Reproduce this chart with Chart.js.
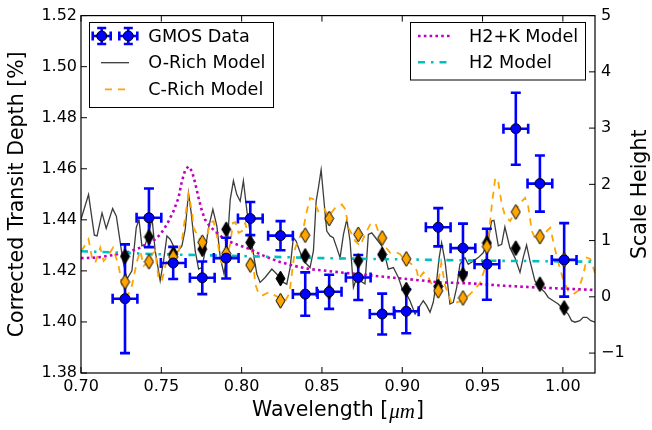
<!DOCTYPE html>
<html>
<head>
<meta charset="utf-8">
<script src="https://cdn.jsdelivr.net/npm/chart.js@4.4.1/dist/chart.umd.min.js"></script>
<style>
  html, body { margin: 0; padding: 0; background: #fff; }
  #wrap { width: 652px; height: 430px; }
</style>
</head>
<body>
<div id="wrap"><canvas id="canvas"></canvas></div>
<script>
// binned GMOS transit depths [%] with 1-sigma errors
const binWave = [0.7274, 0.7423, 0.7574, 0.7755, 0.7904, 0.8054, 0.8242, 0.8396, 0.8545,
  0.8726, 0.8875, 0.9025, 0.9224, 0.9378, 0.9527, 0.9707, 0.9857, 1.0008];
const binDepth = [1.4091, 1.4408, 1.4231, 1.4173, 1.4250, 1.4405, 1.4338, 1.4109, 1.4118,
  1.4174, 1.4031, 1.4042, 1.4371, 1.4289, 1.4226, 1.4757, 1.4542, 1.4243];
const binErr = [0.0213, 0.0115, 0.0063, 0.0064, 0.0080, 0.0065, 0.0057, 0.0085, 0.0067,
  0.0088, 0.0080, 0.0086, 0.0075, 0.0096, 0.0139, 0.0141, 0.0110, 0.0144];
const binHalfWidth = 0.0077;

// models averaged over the same bins
const oRichBinned = [1.4257, 1.4333, 1.4266, 1.4285, 1.4363, 1.4311, 1.4170, 1.4259, 1.4118,
  1.4239, 1.4264, 1.4127, 1.4139, 1.4185, 1.4309, 1.4289, 1.4148, 1.4055];
const cRichBinned = [1.4157, 1.4236, 1.4255, 1.4312, 1.4268, 1.4223, 1.4083, 1.4340, 1.4405,
  1.4343, 1.4329, 1.4247, 1.4122, 1.4094, 1.4295, 1.4431, 1.4334, 1.4243];

// O-rich model spectrum
const oRichWave = [0.7000, 0.7047, 0.7083, 0.7100, 0.7131, 0.7157, 0.7197, 0.7220, 0.7240, 0.7261,
  0.7286, 0.7317, 0.7344, 0.7361, 0.7379, 0.7400, 0.7421, 0.7442, 0.7462, 0.7493,
  0.7514, 0.7535, 0.7555, 0.7597, 0.7628, 0.7649, 0.7669, 0.7686, 0.7711, 0.7732,
  0.7753, 0.7773, 0.7794, 0.7821, 0.7846, 0.7867, 0.7891, 0.7908, 0.7929, 0.7949,
  0.7970, 0.7991, 0.8011, 0.8033, 0.8053, 0.8074, 0.8095, 0.8115, 0.8146, 0.8188,
  0.8229, 0.8260, 0.8281, 0.8302, 0.8322, 0.8339, 0.8354, 0.8385, 0.8406, 0.8426,
  0.8447, 0.8464, 0.8478, 0.8495, 0.8509, 0.8530, 0.8551, 0.8571, 0.8592, 0.8613,
  0.8634, 0.8655, 0.8675, 0.8696, 0.8717, 0.8737, 0.8768, 0.8789, 0.8810, 0.8841,
  0.8872, 0.8893, 0.8913, 0.8945, 0.8976, 0.8997, 0.9017, 0.9048, 0.9080, 0.9111,
  0.9131, 0.9152, 0.9173, 0.9193, 0.9214, 0.9230, 0.9245, 0.9266, 0.9297, 0.9318,
  0.9339, 0.9359, 0.9390, 0.9411, 0.9434, 0.9473, 0.9504, 0.9535, 0.9556, 0.9571,
  0.9598, 0.9619, 0.9639, 0.9670, 0.9701, 0.9733, 0.9753, 0.9774, 0.9795, 0.9826,
  0.9857, 0.9888, 0.9909, 0.9940, 0.9971, 1.0002, 1.0033, 1.0054, 1.0075, 1.0106,
  1.0126, 1.0149, 1.0174, 1.0200];
const oRichDepth = [1.4402, 1.4499, 1.4340, 1.4337, 1.4427, 1.4366, 1.4444, 1.4414, 1.4330, 1.4239,
  1.4168, 1.4200, 1.4369, 1.4402, 1.4298, 1.4304, 1.4343, 1.4408, 1.4278, 1.4161,
  1.4239, 1.4337, 1.4324, 1.4271, 1.4298, 1.4363, 1.4505, 1.4427, 1.4278, 1.4207,
  1.4213, 1.4278, 1.4369, 1.4441, 1.4375, 1.4252, 1.4187, 1.4278, 1.4479, 1.4553,
  1.4499, 1.4473, 1.4553, 1.4434, 1.4349, 1.4265, 1.4187, 1.4155, 1.4174, 1.4207,
  1.4181, 1.4155, 1.4148, 1.4213, 1.4330, 1.4317, 1.4291, 1.4239, 1.4226, 1.4213,
  1.4278, 1.4473, 1.4525, 1.4596, 1.4499, 1.4356, 1.4337, 1.4330, 1.4291, 1.4252,
  1.4343, 1.4402, 1.4317, 1.4135, 1.4174, 1.4161, 1.4149, 1.4343, 1.4349, 1.4324,
  1.4298, 1.4259, 1.4207, 1.4213, 1.4174, 1.4135, 1.4122, 1.4083, 1.4031, 1.4064,
  1.4083, 1.4064, 1.4038, 1.4077, 1.4161, 1.4252, 1.4310, 1.4239, 1.4070, 1.4077,
  1.4135, 1.4226, 1.4252, 1.4226, 1.4235, 1.4252, 1.4271, 1.4317, 1.4395, 1.4398,
  1.4298, 1.4304, 1.4372, 1.4291, 1.4252, 1.4194, 1.4252, 1.4301, 1.4239, 1.4161,
  1.4135, 1.4116, 1.4096, 1.4083, 1.4070, 1.4051, 1.4031, 1.4005, 1.3999, 1.4005,
  1.4018, 1.4018, 1.4005, 1.3999];

// C-rich model spectrum
const cRichWave = [0.7000, 0.7016, 0.7047, 0.7068, 0.7089, 0.7120, 0.7141, 0.7170, 0.7199, 0.7234,
  0.7255, 0.7276, 0.7296, 0.7317, 0.7349, 0.7369, 0.7390, 0.7419, 0.7444, 0.7462,
  0.7483, 0.7504, 0.7525, 0.7551, 0.7581, 0.7607, 0.7628, 0.7649, 0.7669, 0.7691,
  0.7701, 0.7743, 0.7763, 0.7784, 0.7805, 0.7825, 0.7846, 0.7867, 0.7888, 0.7908,
  0.7929, 0.7946, 0.7960, 0.7981, 0.8002, 0.8023, 0.8041, 0.8064, 0.8085, 0.8104,
  0.8127, 0.8168, 0.8209, 0.8272, 0.8298, 0.8315, 0.8334, 0.8365, 0.8385, 0.8406,
  0.8426, 0.8446, 0.8477, 0.8510, 0.8541, 0.8583, 0.8624, 0.8645, 0.8666, 0.8687,
  0.8707, 0.8738, 0.8768, 0.8801, 0.8832, 0.8850, 0.8883, 0.8925, 0.8967, 0.8987,
  0.9018, 0.9049, 0.9070, 0.9091, 0.9101, 0.9132, 0.9164, 0.9187, 0.9216, 0.9243,
  0.9267, 0.9309, 0.9371, 0.9412, 0.9444, 0.9485, 0.9516, 0.9537, 0.9558, 0.9579,
  0.9597, 0.9620, 0.9641, 0.9672, 0.9703, 0.9734, 0.9765, 0.9784, 0.9807, 0.9834,
  0.9865, 0.9900, 0.9921, 0.9940, 0.9963, 1.0004, 1.0033, 1.0066, 1.0095, 1.0128,
  1.0149, 1.0170, 1.0200];
const cRichDepth = [1.4278, 1.4291, 1.4324, 1.4252, 1.4232, 1.4291, 1.4239, 1.4259, 1.4291, 1.4220,
  1.4148, 1.4114, 1.4109, 1.4142, 1.4239, 1.4278, 1.4220, 1.4231, 1.4266, 1.4278,
  1.4168, 1.4161, 1.4220, 1.4265, 1.4255, 1.4278, 1.4317, 1.4414, 1.4499, 1.4434,
  1.4369, 1.4317, 1.4325, 1.4337, 1.4388, 1.4395, 1.4337, 1.4246, 1.4220, 1.4259,
  1.4304, 1.4388, 1.4391, 1.4349, 1.4356, 1.4388, 1.4337, 1.4278, 1.4148, 1.4114,
  1.4103, 1.4116, 1.4103, 1.4083, 1.4113, 1.4200, 1.4291, 1.4337, 1.4369, 1.4434,
  1.4486, 1.4481, 1.4434, 1.4447, 1.4414, 1.4447, 1.4460, 1.4442, 1.4369, 1.4343,
  1.4317, 1.4298, 1.4343, 1.4382, 1.4388, 1.4356, 1.4304, 1.4271, 1.4271, 1.4265,
  1.4239, 1.4231, 1.4220, 1.4200, 1.4168, 1.4194, 1.4174, 1.4142, 1.4122, 1.4231,
  1.4142, 1.4070, 1.4083, 1.4103, 1.4122, 1.4153, 1.4213, 1.4330, 1.4460, 1.4564,
  1.4551, 1.4460, 1.4414, 1.4395, 1.4434, 1.4466, 1.4486, 1.4453, 1.4356, 1.4317,
  1.4317, 1.4356, 1.4369, 1.4317, 1.4252, 1.4161, 1.4122, 1.4109, 1.4122, 1.4187,
  1.4252, 1.4247, 1.4192];

// H2 + K and pure H2 atmosphere models
const h2kWave = [0.700, 0.710, 0.720, 0.730, 0.737, 0.745, 0.7494, 0.7535, 0.7576, 0.7607,
  0.7628, 0.7649, 0.7669, 0.7691, 0.7711, 0.7732, 0.7753, 0.7773, 0.7805, 0.7846,
  0.7890, 0.7950, 0.8053, 0.8115, 0.8219, 0.8323, 0.8426, 0.8531, 0.8614, 0.8821,
  0.9029, 0.9236, 0.9423, 0.9630, 0.9838, 1.0200];
const h2kDepth = [1.4250, 1.4252, 1.4262, 1.4275, 1.4291, 1.4317, 1.4343, 1.4382, 1.4434, 1.4486,
  1.4551, 1.4596, 1.4609, 1.4590, 1.4544, 1.4486, 1.4434, 1.4400, 1.4372, 1.4350,
  1.4325, 1.4308, 1.4285, 1.4265, 1.4239, 1.4220, 1.4207, 1.4200, 1.4194, 1.4181,
  1.4168, 1.4155, 1.4151, 1.4142, 1.4135, 1.4125];
const h2Wave = [0.70, 0.75, 0.80, 0.85, 0.90, 0.95, 1.02];
const h2Depth = [1.4277, 1.4265, 1.4258, 1.4250, 1.4245, 1.4240, 1.4236];

// axis ticks
const waveTicks = [0.70, 0.75, 0.80, 0.85, 0.90, 0.95, 1.00];
const depthTicks = [1.38, 1.40, 1.42, 1.44, 1.46, 1.48, 1.50, 1.52];
const scaleHeightTicks = [-1, 0, 1, 2, 3, 4, 5];

const FONT = 'DejaVu Sans';
Chart.defaults.font.family = FONT;
Chart.defaults.color = '#000';

const pts = (xs, ys) => xs.map((x, i) => ({ x: x, y: ys[i] }));

// thin diamond marker
function thinDiamond(fill) {
  const c = document.createElement('canvas');
  c.width = 11; c.height = 17;
  const g = c.getContext('2d');
  g.beginPath();
  g.moveTo(5.5, 1); g.lineTo(10, 8.5); g.lineTo(5.5, 16); g.lineTo(1, 8.5); g.closePath();
  g.fillStyle = fill; g.fill();
  g.strokeStyle = '#000'; g.lineWidth = 1; g.stroke();
  return c;
}

const BLUE = '#0000ff', ORANGE = '#ffa500', GREY = '#3c3c3c', MAGENTA = '#bf00bf', CYAN = '#00bfbf';

// errorbars for the GMOS points, drawn just before the diamonds
const errorBars = {
  id: 'errorBars',
  beforeDatasetDraw(chart, args) {
    if (args.index !== 2) return;
    const { ctx, scales: { x, y } } = chart;
    ctx.save();
    ctx.strokeStyle = BLUE;
    ctx.lineWidth = 2.6;
    ctx.beginPath();
    binWave.forEach((w, i) => {
      const px = x.getPixelForValue(w), py = y.getPixelForValue(binDepth[i]);
      const top = y.getPixelForValue(binDepth[i] + binErr[i]);
      const bot = y.getPixelForValue(binDepth[i] - binErr[i]);
      const l = x.getPixelForValue(w - binHalfWidth), r = x.getPixelForValue(w + binHalfWidth);
      ctx.moveTo(px, top); ctx.lineTo(px, bot);
      ctx.moveTo(l, py); ctx.lineTo(r, py);
      ctx.moveTo(px - 5, top); ctx.lineTo(px + 5, top);
      ctx.moveTo(px - 5, bot); ctx.lineTo(px + 5, bot);
      ctx.moveTo(l, py - 5); ctx.lineTo(l, py + 5);
      ctx.moveTo(r, py - 5); ctx.lineTo(r, py + 5);
    });
    ctx.stroke();
    ctx.restore();
  }
};

function sampleLine(ctx, ds, x0, x1, y) {
  ctx.save();
  ctx.strokeStyle = ds.borderColor;
  ctx.lineWidth = ds.borderWidth;
  ctx.setLineDash(ds.borderDash || []);
  ctx.beginPath(); ctx.moveTo(x0, y); ctx.lineTo(x1, y); ctx.stroke();
  ctx.restore();
}

function sampleErrorbar(ctx, cx, cy) {
  ctx.save();
  ctx.strokeStyle = BLUE; ctx.lineWidth = 2.6;
  ctx.beginPath();
  ctx.moveTo(cx - 9, cy); ctx.lineTo(cx + 9, cy);
  ctx.moveTo(cx, cy - 8); ctx.lineTo(cx, cy + 8);
  ctx.moveTo(cx - 9, cy - 4.5); ctx.lineTo(cx - 9, cy + 4.5);
  ctx.moveTo(cx + 9, cy - 4.5); ctx.lineTo(cx + 9, cy + 4.5);
  ctx.moveTo(cx - 4.5, cy - 8); ctx.lineTo(cx + 4.5, cy - 8);
  ctx.moveTo(cx - 4.5, cy + 8); ctx.lineTo(cx + 4.5, cy + 8);
  ctx.stroke();
  ctx.beginPath(); ctx.arc(cx, cy, 5, 0, Math.PI * 2);
  ctx.fillStyle = BLUE; ctx.fill();
  ctx.strokeStyle = '#000'; ctx.lineWidth = 1; ctx.stroke();
  ctx.restore();
}

// frame, inward ticks, axis titles and the two legend boxes
const decorations = {
  id: 'decorations',
  afterDraw(chart) {
    const { ctx, chartArea: a, scales } = chart;
    const ds = chart.data.datasets;
    ctx.save();
    ctx.strokeStyle = '#000';
    ctx.lineWidth = 1;
    ctx.beginPath();
    waveTicks.forEach(v => {
      const px = scales.x.getPixelForValue(v);
      ctx.moveTo(px, a.bottom); ctx.lineTo(px, a.bottom - 6);
      ctx.moveTo(px, a.top); ctx.lineTo(px, a.top + 6);
    });
    depthTicks.forEach(v => {
      const py = scales.y.getPixelForValue(v);
      ctx.moveTo(a.left, py); ctx.lineTo(a.left + 6, py);
    });
    scaleHeightTicks.forEach(v => {
      const py = scales.y2.getPixelForValue(v);
      ctx.moveTo(a.right, py); ctx.lineTo(a.right - 6, py);
    });
    ctx.stroke();
    ctx.lineWidth = 1.2;
    ctx.strokeRect(a.left, a.top, a.right - a.left, a.bottom - a.top);

    // axis titles
    ctx.fillStyle = '#000';
    ctx.textBaseline = 'middle';
    ctx.textAlign = 'center';
    ctx.font = '20.5px "' + FONT + '"';
    const midY = (a.top + a.bottom) / 2;
    ctx.save(); ctx.translate(18, midY); ctx.rotate(-Math.PI / 2);
    ctx.fillText('Corrected Transit Depth [%]', 0, 0); ctx.restore();
    ctx.save(); ctx.translate(641, midY); ctx.rotate(-Math.PI / 2);
    ctx.fillText('Scale Height', 0, 0); ctx.restore();

    const head = 'Wavelength [', unit = '\u03bcm', tail = ']';
    const sansFont = '20.5px "' + FONT + '"', mathFont = 'italic 21px "Liberation Serif"';
    ctx.font = sansFont; const wHead = ctx.measureText(head).width, wTail = ctx.measureText(tail).width;
    ctx.font = mathFont; const wUnit = ctx.measureText(unit).width + 2;
    let tx = (a.left + a.right) / 2 - (wHead + wUnit + wTail) / 2;
    const ty = 411;
    ctx.textAlign = 'left';
    ctx.font = sansFont; ctx.fillText(head, tx, ty); tx += wHead;
    ctx.font = mathFont; ctx.fillText(unit, tx + 1, ty + 1); tx += wUnit;
    ctx.font = sansFont; ctx.fillText(tail, tx, ty);

    // legends
    const legendFont = '17.6px "' + FONT + '"';
    const box = (x, y, w, h) => {
      ctx.fillStyle = '#fff'; ctx.fillRect(x, y, w, h);
      ctx.strokeStyle = '#000'; ctx.lineWidth = 1; ctx.strokeRect(x, y, w, h);
    };
    const label = (text, x, y) => {
      ctx.fillStyle = '#000'; ctx.font = legendFont; ctx.textAlign = 'left'; ctx.textBaseline = 'middle';
      ctx.fillText(text, x, y + 1);
    };
    box(89.5, 22.5, 184, 85);
    sampleErrorbar(ctx, 101.7, 36);
    sampleErrorbar(ctx, 128.3, 36);
    label(ds[0].label, 148.3, 36);
    sampleLine(ctx, ds[6], 101, 129, 62.7);
    label(ds[6].label, 148.3, 62.7);
    sampleLine(ctx, ds[5], 105, 129, 89.3);
    label(ds[5].label, 148.3, 89.3);

    box(410.5, 22.5, 175, 57.5);
    sampleLine(ctx, ds[4], 418, 450, 36);
    label(ds[4].label, 469, 36);
    sampleLine(ctx, ds[3], 418, 450, 62.3);
    label(ds[3].label, 469, 62.3);
    ctx.restore();
  }
};

const tickFont = { family: FONT, size: 16 };
const noGrid = { display: false, drawTicks: false, tickLength: 0 };

new Chart(document.getElementById('canvas'), {
  type: 'scatter',
  data: {
    datasets: [
      {
        label: 'GMOS Data', data: pts(binWave, binDepth), order: 0,
        pointRadius: 5, pointBackgroundColor: BLUE, pointBorderColor: '#000', pointBorderWidth: 1,
        showLine: false, clip: false
      },
      {
        label: 'C-Rich Binned', data: pts(binWave, cRichBinned), order: 1,
        pointStyle: thinDiamond(ORANGE), pointRadius: 5, showLine: false, clip: false
      },
      {
        label: 'O-Rich Binned', data: pts(binWave, oRichBinned), order: 2,
        pointStyle: thinDiamond('#000'), pointRadius: 5, showLine: false, clip: false
      },
      {
        label: 'H2 Model', data: pts(h2Wave, h2Depth), order: 3, showLine: true,
        borderColor: CYAN, borderWidth: 2.6, borderDash: [7, 6, 2.5, 6], pointRadius: 0
      },
      {
        label: 'H2+K Model', data: pts(h2kWave, h2kDepth), order: 4, showLine: true,
        borderColor: MAGENTA, borderWidth: 2.6, borderDash: [2.6, 3.2], pointRadius: 0
      },
      {
        label: 'C-Rich Model', data: pts(cRichWave, cRichDepth), order: 5, showLine: true,
        borderColor: ORANGE, borderWidth: 1.8, borderDash: [7, 6], pointRadius: 0
      },
      {
        label: 'O-Rich Model', data: pts(oRichWave, oRichDepth), order: 6, showLine: true,
        borderColor: GREY, borderWidth: 1.3, pointRadius: 0
      }
    ]
  },
  options: {
    responsive: true,
    maintainAspectRatio: false,
    animation: false,
    events: [],
    layout: { padding: { top: 13, left: 0, right: 0, bottom: 0 } },
    plugins: { legend: { display: false }, tooltip: { enabled: false } },
    scales: {
      x: {
        type: 'linear', position: 'bottom', min: 0.70, max: 1.02,
        afterBuildTicks: s => { s.ticks = waveTicks.map(v => ({ value: v })); },
        afterFit: s => { s.height = 57; },
        ticks: { font: tickFont, padding: 4, autoSkip: false, maxRotation: 0, callback: v => v.toFixed(2) },
        grid: noGrid, border: { display: false }
      },
      y: {
        type: 'linear', position: 'left', min: 1.38, max: 1.52,
        afterBuildTicks: s => { s.ticks = depthTicks.map(v => ({ value: v })); },
        afterFit: s => { s.width = 81; },
        ticks: { font: tickFont, padding: 4, autoSkip: false, callback: v => v.toFixed(2) },
        grid: noGrid, border: { display: false }
      },
      y2: {
        type: 'linear', position: 'right', min: -1.354, max: 5,
        afterBuildTicks: s => { s.ticks = scaleHeightTicks.map(v => ({ value: v })); },
        afterFit: s => { s.width = 57; },
        ticks: { font: tickFont, padding: 6, autoSkip: false, callback: v => (v < 0 ? '\u2212' + Math.abs(v) : String(v)) },
        grid: noGrid, border: { display: false }
      }
    }
  },
  plugins: [errorBars, decorations]
});
</script>
</body>
</html>
